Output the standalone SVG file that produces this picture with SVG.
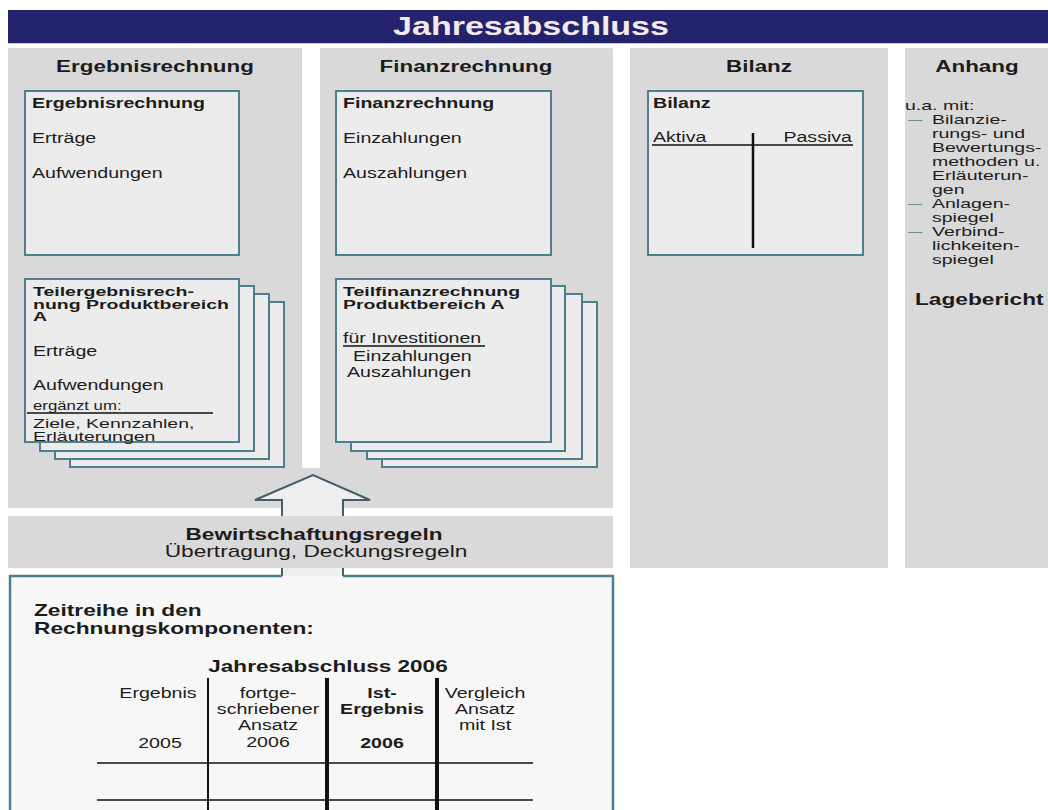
<svg xmlns="http://www.w3.org/2000/svg" width="1048" height="810" viewBox="0 0 1048 810">
<style>
.t{font-family:"Liberation Sans",Arial,sans-serif;fill:#1c1c1c;font-size:14px}
.b{font-weight:bold}
.h{font-size:16px;font-weight:bold}
.s13{font-size:13px}
.s12{font-size:12px}
.sb{font-size:12.5px;font-weight:bold}
.m{text-anchor:middle}
.e{text-anchor:end}
.col{fill:#d9d9d9}
.box{fill:#ececec;stroke:#4d7f91;stroke-width:2}
.ink{stroke:#111;fill:none}
.dash{fill:#6b8f8a}
</style>
<rect width="1048" height="810" fill="#ffffff"/>

<g id="title">
<rect x="8" y="10" width="1040" height="33" fill="#24246e"/>
<line x1="8" y1="43.5" x2="1048" y2="43.5" stroke="#e3b9c2" stroke-width="1"/>
<text class="t b" style="font-size:25px;fill:#f5e8ef" text-anchor="middle" transform="translate(531 35) scale(1.36 1)">Jahresabschluss</text>
</g>

<g id="columns">
<rect class="col" x="8" y="48" width="294" height="460"/>
<rect class="col" x="320" y="48" width="293" height="460"/>
<rect class="col" x="300" y="468" width="22" height="40"/>
<rect class="col" x="630" y="48" width="258" height="520"/>
<rect class="col" x="905" y="48" width="143" height="520"/>
</g>

<g id="connectors">
<path d="M282,576 V500 H255 L313,475 L370,500 H343 V576" fill="#efefef" stroke="#3f5f6b" stroke-width="2" stroke-linejoin="miter"/>
</g>

<g id="ergebnisrechnung">
<text class="t h m" transform="translate(155 72) scale(1.4 1)">Ergebnisrechnung</text>
<rect class="box" x="25" y="91" width="214" height="164"/>
<text class="t b" transform="translate(32 108) scale(1.4 1)">Ergebnisrechnung</text>
<text class="t" transform="translate(32 143) scale(1.4 1)">Erträge</text>
<text class="t" transform="translate(32 178) scale(1.4 1)">Aufwendungen</text>
</g>

<g id="teilergebnisrechnung">
<rect class="box" x="70" y="302" width="214" height="165"/>
<rect class="box" x="55" y="294" width="214" height="165"/>
<rect class="box" x="40" y="286" width="214" height="165"/>
<rect class="box" x="25" y="279" width="214" height="163"/>
<text class="t sb" transform="translate(33 296) scale(1.56 1)">Teilergebnisrech-</text>
<text class="t sb" transform="translate(33 309) scale(1.56 1)">nung Produktbereich</text>
<text class="t sb" transform="translate(33 321) scale(1.56 1)">A</text>
<text class="t" transform="translate(33 356) scale(1.4 1)">Erträge</text>
<text class="t" transform="translate(33 390) scale(1.4 1)">Aufwendungen</text>
<text class="t s12" transform="translate(33 410) scale(1.4 1)">ergänzt um:</text>
<line class="ink" x1="27" y1="413" x2="213" y2="413" stroke-width="1.5"/>
<text class="t s13" transform="translate(33 428) scale(1.5 1)">Ziele, Kennzahlen,</text>
<text class="t s13" transform="translate(33 441) scale(1.5 1)">Erläuterungen</text>
</g>

<g id="finanzrechnung">
<text class="t h m" transform="translate(466 72) scale(1.4 1)">Finanzrechnung</text>
<rect class="box" x="336" y="91" width="215" height="164"/>
<text class="t b" transform="translate(343 108) scale(1.4 1)">Finanzrechnung</text>
<text class="t" transform="translate(343 143) scale(1.4 1)">Einzahlungen</text>
<text class="t" transform="translate(343 178) scale(1.4 1)">Auszahlungen</text>
</g>

<g id="teilfinanzrechnung">
<rect class="box" x="382" y="302" width="215" height="165"/>
<rect class="box" x="367" y="294" width="215" height="165"/>
<rect class="box" x="351" y="286" width="214" height="165"/>
<rect class="box" x="336" y="279" width="215" height="163"/>
<text class="t sb" transform="translate(343 296) scale(1.56 1)">Teilfinanzrechnung</text>
<text class="t sb" transform="translate(343 309) scale(1.56 1)">Produktbereich A</text>
<text class="t" transform="translate(343 343) scale(1.4 1)">für Investitionen</text>
<line class="ink" x1="343" y1="346" x2="485" y2="346" stroke-width="1.3"/>
<text class="t" transform="translate(353 361) scale(1.4 1)">Einzahlungen</text>
<text class="t" transform="translate(347 377) scale(1.4 1)">Auszahlungen</text>
</g>

<g id="bilanz">
<text class="t h m" transform="translate(759 72) scale(1.4 1)">Bilanz</text>
<rect class="box" x="648" y="91" width="215" height="164"/>
<text class="t b" transform="translate(653 108) scale(1.4 1)">Bilanz</text>
<text class="t" transform="translate(653 142) scale(1.4 1)">Aktiva</text>
<text class="t e" transform="translate(852 142) scale(1.4 1)">Passiva</text>
<line class="ink" x1="652" y1="145" x2="853" y2="145" stroke-width="1.5"/>
<line class="ink" x1="753" y1="133" x2="753" y2="248" stroke-width="2.5"/>
</g>

<g id="anhang">
<text class="t h m" transform="translate(977 72) scale(1.4 1)">Anhang</text>
<text class="t s13" transform="translate(905 110) scale(1.5 1)">u.a. mit:</text>
<text class="t s13 dash" transform="translate(908 124) scale(1.1 1)">—</text>
<text class="t s13" transform="translate(932 124) scale(1.5 1)">Bilanzie-</text>
<text class="t s13" transform="translate(932 138) scale(1.5 1)">rungs- und</text>
<text class="t s13" transform="translate(932 152) scale(1.5 1)">Bewertungs-</text>
<text class="t s13" transform="translate(932 166) scale(1.5 1)">methoden u.</text>
<text class="t s13" transform="translate(932 180) scale(1.5 1)">Erläuterun-</text>
<text class="t s13" transform="translate(932 194) scale(1.5 1)">gen</text>
<text class="t s13 dash" transform="translate(908 208) scale(1.1 1)">—</text>
<text class="t s13" transform="translate(932 208) scale(1.5 1)">Anlagen-</text>
<text class="t s13" transform="translate(932 222) scale(1.5 1)">spiegel</text>
<text class="t s13 dash" transform="translate(908 236) scale(1.1 1)">—</text>
<text class="t s13" transform="translate(932 236) scale(1.5 1)">Verbind-</text>
<text class="t s13" transform="translate(932 250) scale(1.5 1)">lichkeiten-</text>
<text class="t s13" transform="translate(932 264) scale(1.5 1)">spiegel</text>
<text class="t h" transform="translate(915 305) scale(1.42 1)">Lagebericht</text>
</g>

<g id="bewirtschaftungsregeln">
<rect class="col" x="8" y="516" width="605" height="52"/>
<text class="t h m" transform="translate(314 540) scale(1.41 1)">Bewirtschaftungsregeln</text>
<text class="t m" style="font-size:16px" transform="translate(316 557) scale(1.42 1)">Übertragung, Deckungsregeln</text>
</g>

<g id="zeitreihe">
<rect x="10" y="576" width="603" height="240" fill="#f7f7f7"/>
<path d="M282,576 H10 V815 M343,576 H613 V815" fill="none" stroke="#4d7f91" stroke-width="2.5"/>
<text class="t h" transform="translate(34 616) scale(1.42 1)">Zeitreihe in den</text>
<text class="t h" transform="translate(34 634) scale(1.42 1)">Rechnungskomponenten:</text>
<text class="t h m" transform="translate(328 672) scale(1.41 1)">Jahresabschluss 2006</text>
<text class="t m" transform="translate(158 698) scale(1.4 1)">Ergebnis</text>
<text class="t m" transform="translate(160 748) scale(1.4 1)">2005</text>
<text class="t m" transform="translate(268 698) scale(1.4 1)">fortge-</text>
<text class="t m" transform="translate(268 714) scale(1.4 1)">schriebener</text>
<text class="t m" transform="translate(268 730) scale(1.4 1)">Ansatz</text>
<text class="t m" transform="translate(268 747) scale(1.4 1)">2006</text>
<text class="t b m" transform="translate(382 698) scale(1.4 1)">Ist-</text>
<text class="t b m" transform="translate(382 714) scale(1.4 1)">Ergebnis</text>
<text class="t b m" transform="translate(382 748) scale(1.4 1)">2006</text>
<text class="t m" transform="translate(485 698) scale(1.4 1)">Vergleich</text>
<text class="t m" transform="translate(485 714) scale(1.4 1)">Ansatz</text>
<text class="t m" transform="translate(485 730) scale(1.4 1)">mit Ist</text>
<line class="ink" x1="208" y1="678" x2="208" y2="810" stroke-width="2"/>
<line class="ink" x1="327" y1="678" x2="327" y2="810" stroke-width="4"/>
<line class="ink" x1="437" y1="678" x2="437" y2="810" stroke-width="4"/>
<line class="ink" x1="97" y1="763" x2="533" y2="763" stroke-width="1.5"/>
<line class="ink" x1="97" y1="800" x2="533" y2="800" stroke-width="1.5"/>
</g>
</svg>
